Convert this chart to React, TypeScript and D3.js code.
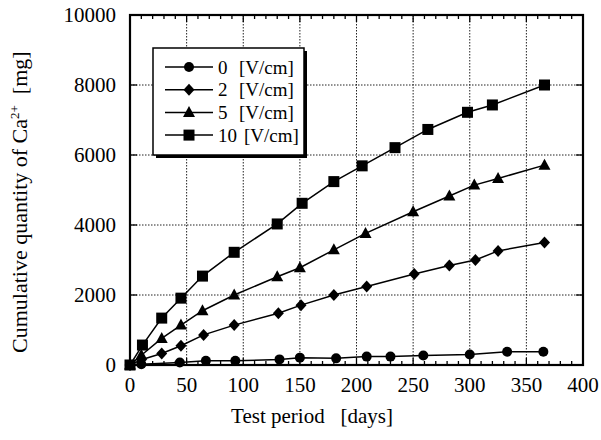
import React from 'react';
import * as d3 from 'd3';

const legendLabels = ['0', '2', '5', '10'];
const markerKinds = ['circle', 'diamond', 'triangle', 'square'];

const daysV0 = [0, 10, 44, 67, 93, 132, 150, 182, 209, 230, 259, 300, 333, 365];
const caV0 = [0, 20, 70, 120, 120, 160, 210, 190, 240, 240, 270, 300, 380, 380];

const daysV2 = [0, 10, 28, 45, 65, 92, 131, 151, 180, 209, 251, 282, 305, 325, 366];
const caV2 = [0, 150, 330, 550, 860, 1140, 1480, 1710, 2000, 2240, 2600, 2840, 3000, 3260, 3500];

const daysV5 = [0, 10, 28, 45, 64, 92, 130, 150, 180, 208, 250, 282, 304, 325, 366];
const caV5 = [0, 280, 760, 1140, 1550, 2000, 2520, 2780, 3290, 3760, 4380, 4830, 5140, 5330, 5710];

const daysV10 = [0, 11, 28, 45, 64, 92, 130, 152, 180, 205, 234, 263, 298, 320, 366];
const caV10 = [0, 570, 1340, 1910, 2540, 3220, 4030, 4620, 5240, 5690, 6210, 6730, 7220, 7430, 8000];

const xTicks = [0, 50, 100, 150, 200, 250, 300, 350, 400];
const yTicks = [0, 2000, 4000, 6000, 8000, 10000];

const series = [
  { days: daysV0, ca: caV0 },
  { days: daysV2, ca: caV2 },
  { days: daysV5, ca: caV5 },
  { days: daysV10, ca: caV10 },
];

const font = "'Liberation Serif', 'DejaVu Serif', serif";

const Marker = ({ kind, x, y }: { kind: string; x: number; y: number }) => {
  if (kind === 'circle') return <circle cx={x} cy={y} r={5} fill="#000" />;
  if (kind === 'square') return <rect x={x - 5.5} y={y - 5.5} width={11} height={11} fill="#000" />;
  if (kind === 'triangle')
    return <path d={`M${x},${y - 6.5} L${x + 6},${y + 4.5} L${x - 6},${y + 4.5} Z`} fill="#000" />;
  return <path d={`M${x},${y - 6} L${x + 5.5},${y} L${x},${y + 6} L${x - 5.5},${y} Z`} fill="#000" />;
};

const App = () => {
  const width = 601;
  const height = 440;
  const left = 130, right = 583, top = 15, bottom = 365;

  const x = d3.scaleLinear().domain([0, 400]).range([left, right]);
  const y = d3.scaleLinear().domain([0, 10000]).range([bottom, top]);

  const line = d3
    .line<[number, number]>()
    .x((d) => x(d[0]))
    .y((d) => y(d[1]));

  const minorX = d3.range(0, 401, 10);

  return (
    <svg
      width={width}
      height={height}
      style={{ position: 'absolute', left: 0, top: 0, background: '#fff', fontFamily: font }}
    >
      <rect width={width} height={height} fill="#fff" />
      {/* grid */}
      <g stroke="#222" strokeWidth={1} strokeDasharray="1.5,1.5">
        {xTicks.slice(1, -1).map((t) => (
          <line key={'gx' + t} x1={x(t)} x2={x(t)} y1={top} y2={bottom} />
        ))}
        {yTicks.slice(1, -1).map((t) => (
          <line key={'gy' + t} x1={left} x2={right} y1={y(t)} y2={y(t)} />
        ))}
      </g>
      {/* ticks */}
      <g stroke="#000" strokeWidth={1.3}>
        {minorX.map((t) => {
          const len = t % 50 === 0 ? 7 : 4;
          return (
            <g key={'tx' + t}>
              <line x1={x(t)} x2={x(t)} y1={bottom} y2={bottom - len} />
              <line x1={x(t)} x2={x(t)} y1={top} y2={top + len} />
            </g>
          );
        })}
        {yTicks.map((t) => (
          <g key={'ty' + t}>
            <line x1={left} x2={left + 7} y1={y(t)} y2={y(t)} />
            <line x1={right} x2={right - 7} y1={y(t)} y2={y(t)} />
          </g>
        ))}
      </g>
      {/* series */}
      {series.map((s, i) => {
        const pts = s.days.map((d, j) => [d, s.ca[j]] as [number, number]);
        return (
          <g key={'s' + i}>
            <path d={line(pts) || ''} fill="none" stroke="#000" strokeWidth={1.5} />
            {pts.map((p, j) => (
              <Marker key={j} kind={markerKinds[i]} x={x(p[0])} y={y(p[1])} />
            ))}
          </g>
        );
      })}
      {/* frame */}
      <rect x={left} y={top} width={right - left} height={bottom - top} fill="none" stroke="#000" strokeWidth={2.2} />
      {/* tick labels */}
      <g fontSize={21} fill="#000">
        {xTicks.map((t) => (
          <text key={'lx' + t} x={x(t)} y={392} textAnchor="middle">
            {t}
          </text>
        ))}
        {yTicks.map((t) => (
          <text key={'ly' + t} x={116} y={y(t)} dy="0.35em" textAnchor="end">
            {t}
          </text>
        ))}
      </g>
      {/* axis titles */}
      <text x={312} y={423} textAnchor="middle" fontSize={21} fill="#000" xmlSpace="preserve">
        Test period   [days]
      </text>
      <text
        transform="translate(27,353) rotate(-90)"
        textAnchor="start"
        fontSize={22}
        fill="#000"
        xmlSpace="preserve"
      >
        Cumulative quantity of Ca<tspan fontSize={13} dy={-8}>2+</tspan>
        <tspan dy={8}>  [mg]</tspan>
      </text>
      {/* legend */}
      <g>
        <rect x={156} y={51} width={151} height={107} fill="#000" />
        <rect x={153} y={48} width={151} height={107} fill="#fff" stroke="#000" strokeWidth={1.5} />
        {legendLabels.map((lab, i) => {
          const ly = 67 + i * 22.7;
          return (
            <g key={'lg' + i}>
              <line x1={165} x2={213} y1={ly} y2={ly} stroke="#000" strokeWidth={1.5} />
              <Marker kind={markerKinds[i]} x={189} y={ly} />
              <text x={218} y={ly} dy="0.35em" fontSize={19} fill="#000">
                {lab}
              </text>
              <text x={i === 3 ? 244 : 239} y={ly} dy="0.35em" fontSize={19} fill="#000">
                [V/cm]
              </text>
            </g>
          );
        })}
      </g>
    </svg>
  );
};

export default App;
